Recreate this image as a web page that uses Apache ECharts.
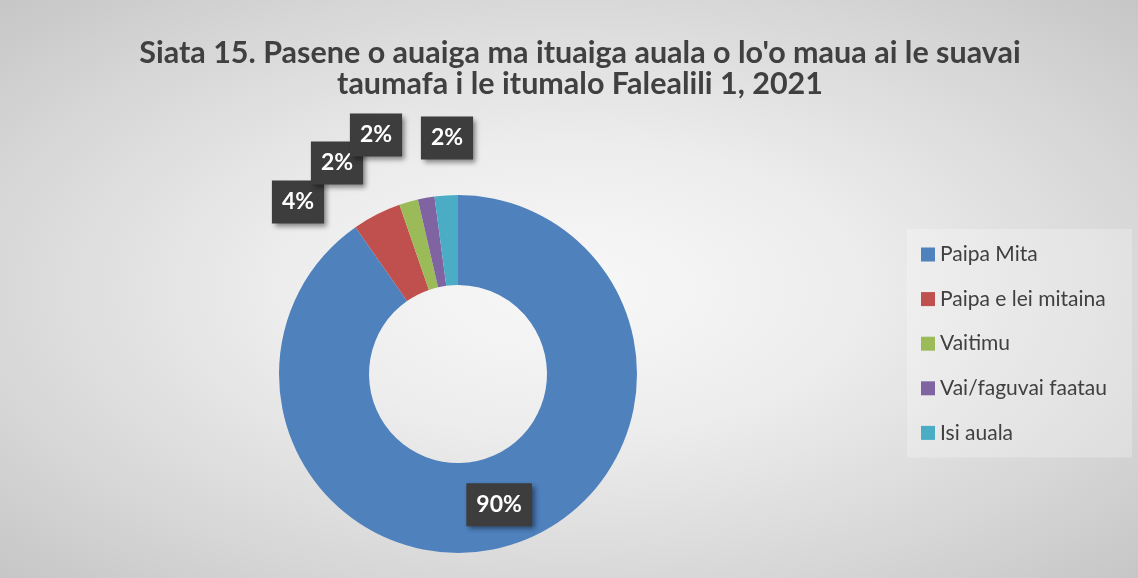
<!DOCTYPE html>
<html>
<head>
<meta charset="utf-8">
<script src="https://cdn.jsdelivr.net/npm/echarts@6/dist/echarts.min.js"></script>
<style>
  html, body { margin: 0; padding: 0; }
  #chart {
    width: 1138px; height: 578px;
    background: radial-gradient(ellipse farthest-corner at 50% 50%, #f8f8f8 0%, #ededed 35%, #d6d6d6 75%, #c6c6c6 100%);
  }
</style>
</head>
<body>
<div id="chart"></div>
<script>
const titleText = "Siata 15. Pasene o auaiga ma ituaiga auala o lo'o maua ai le suavai\ntaumafa i le itumalo Falealili 1, 2021";
const categories = ["Paipa Mita", "Paipa e lei mitaina", "Vaitimu", "Vai/faguvai faatau", "Isi auala"];
const values = [90.3, 4.4, 1.7, 1.5, 2.1];
const colors = ["#4f81bd", "#c0504d", "#9bbb59", "#8064a2", "#4bacc6"];
// label box centres (px) for the small outside labels
const labelCentres = [null, [298, 202], [337, 163], [376, 135], [447, 138]];

const chart = echarts.init(document.getElementById('chart'), null, { renderer: 'canvas' });
const FONT = 'Lato, "Open Sans", sans-serif';

chart.setOption({
  backgroundColor: 'transparent',
  title: {
    text: titleText,
    left: 575,
    top: 33,
    textAlign: 'center',
    textStyle: { fontFamily: FONT, fontSize: 30.5, fontWeight: 'bold', color: '#404040', lineHeight: 31 }
  },
  legend: {
    orient: 'vertical',
    left: 907,
    top: 229,
    backgroundColor: 'rgba(255,255,255,0.25)',
    padding: [15, 25, 14, 14],
    itemWidth: 14,
    itemHeight: 14,
    itemGap: 23.6,
    icon: 'rect',
    data: categories,
    textStyle: { fontFamily: FONT, fontSize: 21, color: '#404040' }
  },
  series: [{
    type: 'pie',
    center: [458, 374],
    radius: [89, 179],
    startAngle: 90,
    clockwise: true,
    avoidLabelOverlap: false,
    data: categories.map((c, i) => ({
      name: c,
      value: values[i],
      itemStyle: { color: colors[i] },
      label: { position: i === 0 ? 'inside' : 'outside' }
    })),
    labelLine: { show: false },
    label: {
      show: true,
      formatter: p => Math.round(p.value) + '%',
      fontFamily: FONT,
      fontSize: 23,
      fontWeight: 'bold',
      color: '#ffffff',
      backgroundColor: '#3d3d3d',
      padding: [9, 10, 9, 10],
      lineHeight: 25,
      shadowColor: 'rgba(0,0,0,0.45)',
      shadowBlur: 5,
      shadowOffsetX: 3,
      shadowOffsetY: 3
    },
    labelLayout: function (params) {
      const c = labelCentres[params.dataIndex];
      if (!c) return {};
      return {
        x: c[0] - params.labelRect.width / 2,
        y: c[1] - params.labelRect.height / 2,
        align: 'left',
        verticalAlign: 'top'
      };
    },
    emphasis: { disabled: true }
  }],
  animation: false
});
</script>
</body>
</html>
